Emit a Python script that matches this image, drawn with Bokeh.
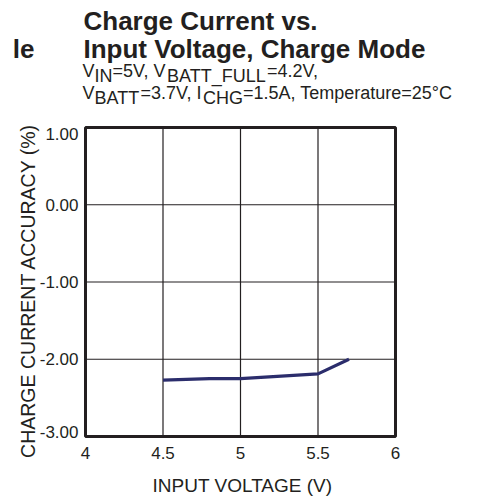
import math
from bokeh.plotting import figure
from bokeh.models import Range1d, Label
from bokeh.embed import file_html
from bokeh.resources import INLINE

# ---- data ----
input_voltage = [4.5, 4.8, 5.0, 5.5, 5.7]
charge_accuracy = [-2.27, -2.25, -2.25, -2.19, -2.0]

x_ticks = [4, 4.5, 5, 5.5, 6]
x_tick_labels = ["4", "4.5", "5", "5.5", "6"]
y_ticks = [1, 0, -1, -2, -3]
y_tick_labels = ["1.00", "0.00", "-1.00", "-2.00", "-3.00"]

title_lines = ["Charge Current vs.", "Input Voltage, Charge Mode"]
sub_line1 = [("V", 0), ("IN", 1), ("=5V, V", 0), ("BATT_FULL", 1), ("=4.2V,", 0)]
sub_line2 = [("V", 0), ("BATT", 1), ("=3.7V, I", 0), ("CHG", 1), ("=1.5A, Temperature=25\u00b0C", 0)]
x_label = "INPUT VOLTAGE (V)"
y_label = "CHARGE CURRENT ACCURACY (%)"
cut_text = "le"

FONT = "Liberation Sans"
TXT = "#231f20"
LINE = "#2b2d6c"

# ---- layout (page pixels) ----
W_PX, H_PX = 470, 497
FL, FR, FT, FB = 85, 395, 127, 436          # chart box
XMIN, XMAX = x_ticks[0], x_ticks[-1]
YMIN, YMAX = y_ticks[-1], y_ticks[0]
SX = (FR - FL) / (XMAX - XMIN)              # px per x unit
SY = (FB - FT) / (YMAX - YMIN)              # px per y unit
BASE_FIX = 7                                # alphabetic baseline correction (px)

def dx(px):
    return XMIN + (px - FL) / SX

def dy(py):
    return YMAX - (py - FT) / SY

p = figure(width=W_PX, height=H_PX, output_backend="svg", toolbar_location=None,
           x_axis_location=None, y_axis_location=None,
           x_range=Range1d(dx(0), dx(W_PX)), y_range=Range1d(dy(H_PX), dy(0)),
           min_border=0, min_border_left=0, min_border_right=0,
           min_border_top=0, min_border_bottom=0)
p.grid.visible = False
p.outline_line_color = None
p.background_fill_color = "white"
p.border_fill_color = "white"

# grid lines (inner ticks only, inside the chart box)
gx = x_ticks[1:-1]
p.segment(x0=gx, x1=gx, y0=[YMIN] * len(gx), y1=[YMAX] * len(gx),
          line_color=TXT, line_width=1.2)
gy = y_ticks[1:-1]
p.segment(x0=[XMIN] * len(gy), x1=[XMAX] * len(gy), y0=gy, y1=gy,
          line_color=TXT, line_width=1.2)

# data line
p.line(input_voltage, charge_accuracy, line_color=LINE, line_width=3.2)

# chart box
p.quad(left=[XMIN], right=[XMAX], bottom=[YMIN], top=[YMAX],
       fill_color=None, line_color=TXT, line_width=3)

# ---- text helpers ----
W = {' ': 278, ',': 278, '.': 278, '=': 584, '_': 556, 'A': 667, 'B': 667, 'C': 722,
     'F': 611, 'G': 778, 'H': 722, 'I': 278, 'L': 556, 'N': 722, 'T': 611, 'U': 722,
     'V': 667, 'a': 556, 'e': 556, 'm': 833, 'p': 556, 'r': 333, 't': 278, 'u': 556,
     '\u00b0': 400}
for d in "0123456789":
    W[d] = 556

def width(s, size):
    return sum(W.get(c, 556) for c in s) * size / 1000.0

def lab(x, y, text, size, bold=False, align="left", baseline="alphabetic", angle=0.0):
    p.add_layout(Label(x=x, y=y, text=text, text_font=FONT,
                       text_font_size=f"{size}px", text_color=TXT,
                       text_font_style="bold" if bold else "normal",
                       text_align=align, text_baseline=baseline, angle=angle))

def base_lab(px, py, text, size, bold=False, align="left"):
    lab(dx(px), dy(py - BASE_FIX), text, size, bold=bold, align=align)

# tick labels (positions from the tick values through the plot's scales)
for t, s in zip(x_ticks, x_tick_labels):
    lab(t, dy(FB + 23 - BASE_FIX), s, 17, align="center")
for t, s in zip(y_ticks, y_tick_labels):
    ty = min(max(t, dy(FB - 5)), dy(FT + 6))
    lab(dx(FL - 7), ty, s, 17, align="right", baseline="middle")

# axis titles
base_lab(242, 492, x_label, 19, align="center")
lab(dx(27), dy(290), y_label, 19.5, align="center", baseline="middle", angle=math.pi / 2)

# title
base_lab(83, 27, title_lines[0], 26, bold=True)
base_lab(83, 55, title_lines[1], 26, bold=True)
base_lab(34, 55, cut_text, 26, bold=True, align="right")

# conditions with subscripts
SUB = 18
def run_line(runs, x, base):
    for t, is_sub in runs:
        base_lab(x, base + (5 if is_sub else 0), t, SUB)
        x += width(t, SUB)

run_line(sub_line1, 82, 77)
run_line(sub_line2, 82, 99)

open("out.html", "w").write(file_html(p, INLINE))
